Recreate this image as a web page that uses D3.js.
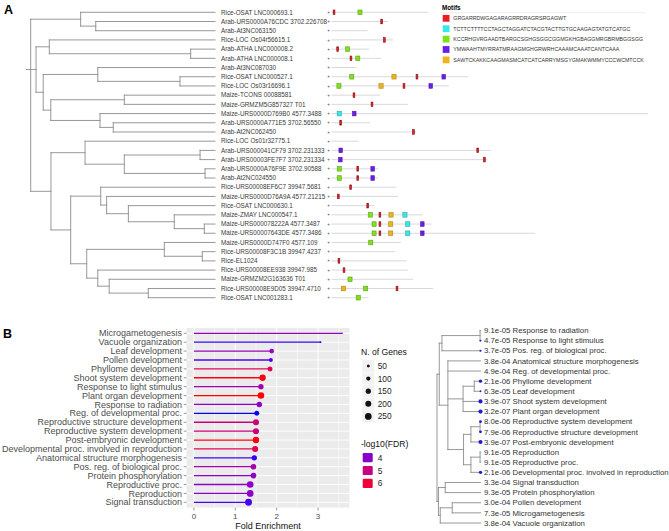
<!DOCTYPE html>
<html>
<head>
<meta charset="utf-8">
<script src="https://cdn.jsdelivr.net/npm/d3@7"></script>
<style>
   body { margin: 0; background: #fff; }
   svg { display: block; font-family: "Liberation Sans", Arial, Helvetica, sans-serif; }
</style>
</head>
<body>
<svg id="fig" width="669" height="531"></svg>
<script>
// ---------- Panel A: lncRNA tree + motif map ----------
const genesA = [
   "Rice-OSAT LNC000693.1", "Arab-URS0000A76CDC 3702.226708", "Arab-At3NC063150",
   "Rice-LOC Os04r56615.1", "Arab-ATHA LNC000008.2", "Arab-ATHA LNC000008.1",
   "Arab-At3NC087030", "Rice-OSAT LNC000527.1", "Rice-LOC Os03r16696.1",
   "Maize-TCONS 00088581", "Maize-GRMZM5G857327 T01", "Maize-URS0000D769B0 4577.3488",
   "Arab-URS0000A771E5 3702.56550", "Arab-At2NC062450", "Rice-LOC Os01r32775.1",
   "Arab-URS000041CF79 3702.231333", "Arab-URS00003FE7F7 3702.231334", "Arab-URS0000A76F9E 3702.90588",
   "Arab-At2NC024550", "Rice-URS00008EF6C7 39947.5681", "Maize-URS0000D76A9A 4577.21215",
   "Rice-OSAT LNC000630.1", "Maize-ZMAY LNC000547.1", "Maize-URS000078222A 4577.3487",
   "Maize-URS00007643DE 4577.3486", "Maize-URS0000D747F0 4577.109", "Rice-URS00008F3C1B 39947.4237",
   "Rice-EL1024", "Rice-URS00008EE938 39947.985", "Maize-GRMZM2G163636 T01",
   "Rice-URS00008E9D05 39947.4710", "Rice-OSAT LNC001283.1"
];

// internal node = [depth from root (0..1), ...children], leaf = index into genesA
const treeA = [0,
   [0.271, 0, [0.353, 1, 2]],
   [0.029,
      [0.101, 3, [0.868, 4, 5]],
      [0.068,
         [0.364, 6, [0.810, 7, 8]],
         [0.109, [0.508, 9, 10], [0.376, 11, [0.448, 12, 13]]]]],
   [0.110,
      [0.295, 14, [0.508, [0.919, 15, 16], [0.946, 17, 18]]],
      [0.217,
         [0.380, 19, [0.412, 20, [0.530, 21, [0.779, 22, [0.942, 23, 24]]]]],
         [0.304, [0.725, 25, [0.931, 26, 27]], [0.364, 28, [0.426, 29, [0.638, 30, 31]]]]]]
];

// sequence lengths (nt)
const seqLenA = [612, 357, 229, 389, 237, 313, 159, 864, 742, 306, 482, 2000, 243, 534, 169, 1006,
   985, 296, 294, 408, 422, 270, 575, 633, 1286, 439, 401, 475, 485, 517, 643, 233];

const motifSeqs = [
   "GRGARRDWGAGARAGRRDRAGRSRGAGWT",
   "TCTTCTTTTCCTAGCTAGGATCTACGTACTTGTGCAAGAGTATGTCATGC",
   "KCCRHGVRGAADTBARGCSGHGSGGCGGMGKHGBAGGMRGBRMBGGSGG",
   "YMWAAHTMYRRATMRAAGMGHGRWRHCAAAMCAAATCANTCAAA",
   "SAWTCKAKKCAAGMASMCATCATCARRYMSGYGMAKWMMYCCCWCMTCCK"
];
const motifColors = ["#ec1c24", "#38e8e8", "#7fe01c", "#6a1ee6", "#f0b31e"];

// [gene row, motif, position nt]
const motifHits = [
   [0, 0, 16], [0, 2, 180],
   [1, 0, 317],
   [3, 0, 334],
   [4, 0, 39], [4, 2, 102],
   [5, 0, 123], [5, 2, 166],
   [7, 2, 128], [7, 4, 395], [7, 0, 540], [7, 3, 709],
   [8, 2, 47], [8, 4, 313], [8, 0, 458], [8, 3, 627],
   [9, 0, 142],
   [10, 0, 256],
   [11, 1, 49], [11, 3, 144],
   [12, 0, 58],
   [13, 0, 518],
   [15, 3, 58], [15, 0, 924],
   [16, 3, 56], [16, 0, 966],
   [17, 2, 49], [17, 0, 166], [17, 3, 260],
   [18, 2, 49], [18, 0, 166], [18, 3, 260],
   [19, 0, 121],
   [20, 0, 43],
   [21, 0, 229],
   [22, 2, 245], [22, 0, 306], [22, 4, 376], [22, 1, 464],
   [23, 2, 269], [23, 0, 306], [23, 4, 374], [23, 1, 482], [23, 3, 574],
   [24, 2, 269], [24, 0, 306], [24, 4, 374], [24, 1, 482], [24, 3, 574],
   [25, 2, 248],
   [27, 0, 47],
   [28, 0, 79],
   [29, 2, 117],
   [30, 4, 75], [30, 2, 216], [30, 0, 414],
   [31, 2, 169]
];

// ---------- Panel B: GO enrichment ----------
const termsB = [
   "Microgametogenesis", "Vacuole organization", "Leaf development", "Pollen development",
   "Phyllome development", "Shoot system development", "Response to light stimulus",
   "Plant organ development", "Response to radiation", "Reg. of developmental proc.",
   "Reproductive structure development", "Reproductive system development",
   "Post-embryonic development", "Developmental proc. involved in reproduction",
   "Anatomical structure morphogenesis", "Pos. reg. of biological proc.",
   "Protein phosphorylation", "Reproductive proc.", "Reproduction", "Signal transduction"
];
const foldB = [3.58, 3.06, 1.88, 1.86, 1.84, 1.66, 1.62, 1.62, 1.58, 1.52,
   1.50, 1.50, 1.50, 1.48, 1.46, 1.44, 1.44, 1.36, 1.36, 1.32];
const genesB = [14, 18, 121, 89, 139, 223, 158, 235, 165, 139,
   200, 200, 225, 205, 160, 178, 180, 245, 248, 265];
const fdrB = [7.3e-5, 3.8e-4, 6.3e-5, 3.0e-4, 2.1e-6, 3.9e-7, 4.7e-5, 3.2e-7, 9.1e-5, 4.9e-4,
   7.9e-6, 8.0e-6, 3.9e-7, 2.1e-6, 3.8e-4, 3.7e-5, 9.3e-5, 9.1e-5, 9.1e-5, 3.3e-4];
const sizeBreaks = [50, 100, 150, 200, 250];
const colorBreaks = [4, 5, 6];
const xTicksB = [0, 1, 2, 3];

// internal node = [height (0 leaves .. 1 root), ...children], leaf = index into termsB
const treeB = [1.0,
   [0.948,
      [0.886, [0.01, 8, 6], 15],
      [0.75, 14, 9,
         [0.40, [0.143, 4, 2], 5, 7],
         [0.39, [0.22, [0.01, 11, 10], 12], [0.22, [0.01, 18, 17], 13]]]],
   [0.966, [0.81, 19, 16], [0.925, [0.65, 3, 0], 1]]
];

const svg = d3.select("#fig");
const toNode = (a) => (typeof a === "number" ? { leaf: a } : { h: a[0], children: a.slice(1).map(toNode) });
const lineCol = "#8c8c8c";

// draw a rectangular dendrogram; px/py set beforehand
const drawTree = (g, root) => {
   root.descendants().forEach((d) => {
      if (d.parent) {
         g.append("line").attr("x1", d.parent.px).attr("x2", d.px)
            .attr("y1", d.py).attr("y2", d.py);
      }
      if (d.children) {
         const c = d.children;
         g.append("line").attr("x1", d.px).attr("x2", d.px)
            .attr("y1", c[0].py).attr("y2", c[c.length - 1].py);
      }
   });
   g.selectAll("line").attr("stroke", lineCol).attr("stroke-width", 0.9).attr("stroke-linecap", "square");
};

// ===== Panel A =====
svg.append("text").attr("x", 4).attr("y", 13.5).attr("font-size", 12.5).attr("font-weight", "bold").text("A");

const rootA = d3.hierarchy(toNode(treeA));
const yA = d3.scaleLinear().domain([0, genesA.length - 1]).range([12.3, 297.7]);
const xA = d3.scaleLinear().domain([0, 1]).range([30.7, 215]);
rootA.leaves().forEach((d, i) => { d.py = yA(i); });
rootA.eachAfter((d) => {
   if (d.children) {
      d.px = xA(d.data.h);
      d.py = (d.children[0].py + d.children[d.children.length - 1].py) / 2;
   } else {
      d.px = xA(1);
   }
});
const gA = svg.append("g");
drawTree(gA, rootA);
gA.append("line").attr("x1", 25.7).attr("x2", rootA.px)
   .attr("y1", rootA.children[1].py).attr("y2", rootA.children[1].py)
   .attr("stroke", lineCol).attr("stroke-width", 0.9);

svg.append("g").selectAll("text").data(genesA).enter().append("text")
   .attr("x", 221).attr("y", (d, i) => yA(i) + 2.2)
   .attr("font-size", 6.3).attr("fill", "#3a3a3a").text((d) => d);

// motif map
const xM = d3.scaleLinear().domain([0, 2000]).range([331.5, 648]);
const wM = d3.scaleLinear().domain([29, 50]).range([1.8, 4.2]);
const gM = svg.append("g");
gM.selectAll("line").data(seqLenA).enter().append("line")
   .attr("x1", xM(0)).attr("x2", (d) => xM(d))
   .attr("y1", (d, i) => yA(i)).attr("y2", (d, i) => yA(i))
   .attr("stroke", "#cfcfcf").attr("stroke-width", 0.8);
gM.selectAll("text").data(seqLenA).enter().append("text")
   .attr("x", 328.5).attr("y", (d, i) => yA(i) + 1.6)
   .attr("text-anchor", "middle").attr("font-size", 4.6).attr("fill", "#555").text("+");
gM.selectAll("rect").data(motifHits).enter().append("rect")
   .attr("x", (d) => xM(d[2]) - wM(motifSeqs[d[1]].length) / 2)
   .attr("y", (d) => yA(d[0]) - 2.3)
   .attr("width", (d) => wM(motifSeqs[d[1]].length))
   .attr("height", 4.6)
   .attr("fill", (d) => motifColors[d[1]])
   .attr("stroke", (d) => d3.color(motifColors[d[1]]).darker(d[1] === 0 ? 1.6 : 0.9))
   .attr("stroke-width", 0.6);

// motif legend
const gL = svg.append("g").attr("transform", "translate(441,0)");
gL.append("text").attr("x", 1).attr("y", 10).attr("font-size", 6.3).attr("font-weight", "bold").text("Motifs");
gL.append("line").attr("x1", 0).attr("x2", 205).attr("y1", 12.7).attr("y2", 12.7)
   .attr("stroke", "#e2e2e2").attr("stroke-width", 0.6);
const legA = gL.selectAll(".leg").data(motifSeqs).enter().append("g")
   .attr("transform", (d, i) => `translate(0,${18.3 + i * 10.4})`);
legA.append("rect").attr("x", 1.7).attr("y", -3.4).attr("width", 6.8).attr("height", 6.8)
   .attr("fill", (d, i) => motifColors[i]);
legA.append("text").attr("x", 12.3).attr("y", 1.9).attr("font-size", 5.3).attr("fill", "#333").text((d) => d);

// ===== Panel B: lollipop =====
svg.append("text").attr("x", 3).attr("y", 337.7).attr("font-size", 12.5).attr("font-weight", "bold").text("B");

const panel = { l: 186.5, r: 349.5, t: 328, b: 507.6 };
const xB = d3.scaleLinear().domain([-0.179, 3.76]).range([panel.l, panel.r]);
const yB = d3.scalePoint().domain(termsB).range([333.3, 502.3]);
const lfdr = fdrB.map((v) => -Math.log10(v));
const colB = d3.scaleLinear().domain(d3.extent(lfdr)).range(["blue", "red"]).interpolate(d3.interpolateLab);
const rB = d3.scaleSqrt().domain([0, 250]).range([0, 3.35]);

const gB = svg.append("g");
gB.append("rect").attr("x", panel.l).attr("y", panel.t)
   .attr("width", panel.r - panel.l).attr("height", panel.b - panel.t).attr("fill", "#ebebeb");
gB.selectAll(".minor").data([0.5, 1.5, 2.5, 3.5]).enter().append("line")
   .attr("x1", (d) => xB(d)).attr("x2", (d) => xB(d)).attr("y1", panel.t).attr("y2", panel.b)
   .attr("stroke", "#fff").attr("stroke-width", 0.45);
gB.selectAll(".major").data(xTicksB).enter().append("line")
   .attr("x1", (d) => xB(d)).attr("x2", (d) => xB(d)).attr("y1", panel.t).attr("y2", panel.b)
   .attr("stroke", "#fff").attr("stroke-width", 0.9);
gB.selectAll(".hgrid").data(termsB).enter().append("line")
   .attr("x1", panel.l).attr("x2", panel.r).attr("y1", (d) => yB(d)).attr("y2", (d) => yB(d))
   .attr("stroke", "#fff").attr("stroke-width", 0.9);

// y axis
gB.selectAll(".ytick").data(termsB).enter().append("line")
   .attr("x1", panel.l - 2.8).attr("x2", panel.l).attr("y1", (d) => yB(d)).attr("y2", (d) => yB(d))
   .attr("stroke", "#333").attr("stroke-width", 0.5);
gB.selectAll(".ylab").data(termsB).enter().append("text")
   .attr("x", panel.l - 4.5).attr("y", (d) => yB(d) + 3.1).attr("text-anchor", "end")
   .attr("font-size", 9).attr("fill", "#4d4d4d").text((d) => d);

// x axis
gB.selectAll(".xtick").data(xTicksB).enter().append("line")
   .attr("x1", (d) => xB(d)).attr("x2", (d) => xB(d)).attr("y1", panel.b).attr("y2", panel.b + 2.8)
   .attr("stroke", "#333").attr("stroke-width", 0.5);
gB.selectAll(".xlab").data(xTicksB).enter().append("text")
   .attr("x", (d) => xB(d)).attr("y", panel.b + 11.2).attr("text-anchor", "middle")
   .attr("font-size", 8).attr("fill", "#4d4d4d").text((d) => d);
gB.append("text").attr("x", (panel.l + panel.r) / 2).attr("y", 529)
   .attr("text-anchor", "middle").attr("font-size", 9).attr("fill", "#111").text("Fold Enrichment");

// lollipops
gB.selectAll(".seg").data(termsB).enter().append("line")
   .attr("x1", xB(0)).attr("x2", (d, i) => xB(foldB[i]))
   .attr("y1", (d) => yB(d)).attr("y2", (d) => yB(d))
   .attr("stroke", (d, i) => colB(lfdr[i])).attr("stroke-width", 1.3);
gB.selectAll(".pt").data(termsB).enter().append("circle")
   .attr("cx", (d, i) => xB(foldB[i])).attr("cy", (d) => yB(d))
   .attr("r", (d, i) => rB(genesB[i])).attr("fill", (d, i) => colB(lfdr[i]));

// legends
const gLeg = svg.append("g");
gLeg.append("text").attr("x", 361).attr("y", 354.8).attr("font-size", 8.6).attr("fill", "#111").text("N. of Genes");
const sItems = gLeg.selectAll(".s").data(sizeBreaks).enter().append("g")
   .attr("transform", (d, i) => `translate(0,${366 + i * 12.6})`);
sItems.append("rect").attr("x", 362.3).attr("y", -6).attr("width", 12).attr("height", 12).attr("fill", "#f2f2f2");
sItems.append("circle").attr("cx", 368.3).attr("cy", 0).attr("r", (d) => rB(d)).attr("fill", "#111");
sItems.append("text").attr("x", 377.7).attr("y", 3).attr("font-size", 8.3).attr("fill", "#222").text((d) => d);

gLeg.append("text").attr("x", 361).attr("y", 446.5).attr("font-size", 8.6).attr("fill", "#111").text("-log10(FDR)");
const cItems = gLeg.selectAll(".c").data(colorBreaks).enter().append("g")
   .attr("transform", (d, i) => `translate(0,${457.7 + i * 12.8})`);
cItems.append("rect").attr("x", 362.7).attr("y", -4.6).attr("width", 10).attr("height", 9.2).attr("rx", 1.2)
   .attr("fill", (d) => colB(d));
cItems.append("text").attr("x", 377.7).attr("y", 3).attr("font-size", 8.3).attr("fill", "#222").text((d) => d);

// ===== Panel B: term dendrogram =====
const rootB = d3.hierarchy(toNode(treeB));
const yT = d3.scaleLinear().domain([0, termsB.length - 1]).range([330.5, 523]);
const xT = d3.scaleLinear().domain([0, 1]).range([480.5, 437]);
rootB.leaves().forEach((d, i) => { d.py = yT(i); });
rootB.eachAfter((d) => {
   if (d.children) {
      d.px = xT(d.data.h);
      d.py = (d.children[0].py + d.children[d.children.length - 1].py) / 2;
   } else {
      d.px = xT(0);
   }
});
const gT = svg.append("g");
drawTree(gT, rootB);

const fmtE = (v) => {
   const [m, e] = v.toExponential(1).split("e");
   const n = +e;
   return m + "e" + (n < 0 ? "-" : "+") + String(Math.abs(n)).padStart(2, "0");
};
const dotB = d3.scaleLinear().domain([4.15, 6.5]).range([0.9, 2.1]);
const leavesB = rootB.leaves();
gT.selectAll(".dot").data(leavesB.filter((d) => lfdr[d.data.leaf] > 4.15)).enter().append("circle")
   .attr("cx", (d) => d.px).attr("cy", (d) => d.py)
   .attr("r", (d) => dotB(lfdr[d.data.leaf])).attr("fill", "#1c1cd6");
gT.selectAll(".lab").data(leavesB).enter().append("text")
   .attr("x", 484).attr("y", (d) => d.py + 2.7)
   .attr("font-size", 7.8).attr("fill", "#333")
   .text((d) => fmtE(fdrB[d.data.leaf]) + " " + termsB[d.data.leaf]);
</script>
</body>
</html>
